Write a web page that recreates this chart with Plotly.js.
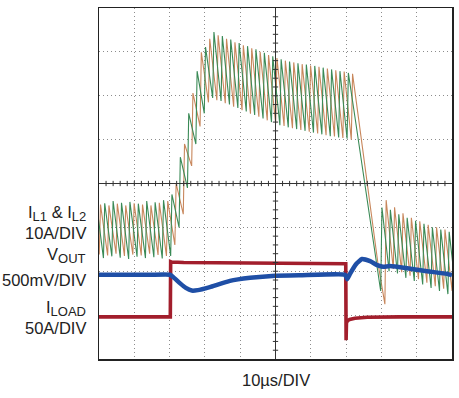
<!DOCTYPE html>
<html>
<head>
<meta charset="utf-8">
<script src="https://cdn.plot.ly/plotly-3.0.1.min.js"></script>
<style>html,body{margin:0;padding:0;background:#fff;}#chart{width:459px;height:398px;}</style>
</head>
<body>
<div id="chart"></div>
<script>
// ---- Data (screen divisions: time 0..10 div, amplitude 0..8 div from bottom) ----
// Switching period of each phase (div) and fraction of period spent ramping up
const PERIOD = 0.238;
const RISE_FRAC = 0.15;
const GREEN_START = -0.112;   // first cycle start of phase 2 (green)
const ORANGE_START = 0.007;   // first cycle start of phase 1 (orange)

// Inductor current IL2 (green): valley and peak of each switching cycle
const GREEN_VALLEY = [2.33,2.30,2.34,2.31,2.28,2.33,2.30,2.32,2.29,2.35,3.00,3.90,4.90,5.60,5.95,5.88,5.80,5.72,5.64,5.56,5.48,5.40,5.33,5.28,5.24,5.20,5.16,5.12,5.08,5.05,5.02,5.43,4.14,2.86,1.55,2.00,1.95,1.85,1.78,1.70,1.62,1.55,1.48,1.45];
const GREEN_PEAK   = [3.57,3.55,3.60,3.56,3.58,3.54,3.60,3.57,3.62,3.75,4.60,5.60,6.56,7.11,7.45,7.36,7.28,7.20,7.13,7.06,6.98,6.90,6.83,6.78,6.74,6.71,6.68,6.64,6.60,6.56,6.52,5.24,3.95,2.67,3.45,3.40,3.30,3.22,3.15,3.08,3.00,2.95,2.90,2.88];

// Inductor current IL1 (orange): valley and peak of each switching cycle
const ORANGE_VALLEY = [2.38,2.36,2.40,2.35,2.38,2.36,2.40,2.37,2.35,2.60,3.30,4.40,5.30,5.85,5.90,5.83,5.75,5.67,5.59,5.52,5.44,5.37,5.31,5.26,5.22,5.18,5.14,5.10,5.07,5.04,5.00,5.29,3.86,2.43,1.25,2.05,1.98,1.90,1.82,1.74,1.66,1.60,1.55,1.52];
const ORANGE_PEAK   = [3.52,3.50,3.54,3.50,3.55,3.52,3.50,3.56,3.60,4.00,4.90,6.06,6.99,7.30,7.38,7.30,7.22,7.15,7.08,7.00,6.93,6.86,6.80,6.76,6.72,6.69,6.66,6.62,6.58,6.55,6.50,5.07,3.64,2.21,3.62,3.46,3.32,3.22,3.14,3.06,3.00,2.95,2.92,2.90];

// Load current ILOAD
const LOAD_T = [0, 2.02, 2.03, 2.06, 2.4, 4.5, 6.99, 7.0, 7.01, 7.04, 7.1, 7.25, 7.6, 8.5, 10];
const LOAD_V = [0.96, 0.96, 2.22, 2.21, 2.20, 2.19, 2.17, 0.43, 0.82, 0.87, 0.90, 0.93, 0.95, 0.96, 0.96];

// Output voltage VOUT
const VOUT_T = [0, 1.44, 2.01, 2.10, 2.29, 2.46, 2.63, 2.80, 3.14, 3.71, 4.28, 4.99, 5.69, 6.97, 7.03, 7.11, 7.28, 7.45, 7.68, 7.88, 8.05, 8.24, 8.73, 9.29, 9.86, 10];
const VOUT_V = [1.92, 1.92, 1.92, 1.87, 1.73, 1.62, 1.56, 1.57, 1.64, 1.78, 1.85, 1.90, 1.91, 1.92, 1.82, 1.94, 2.16, 2.28, 2.23, 2.14, 2.10, 2.12, 2.07, 2.00, 1.94, 1.91];

// ---- Build traces ----
function sawtooth(start, valleys, peaks) {
  const x = [], y = [];
  for (let k = 0; k < valleys.length; k++) {
    const t0 = start + k * PERIOD;
    x.push(t0); y.push(valleys[k]);
    x.push(t0 + RISE_FRAC * PERIOD); y.push(peaks[k]);
  }
  return {x, y};
}
const g = sawtooth(GREEN_START, GREEN_VALLEY, GREEN_PEAK);
const o = sawtooth(ORANGE_START, ORANGE_VALLEY, ORANGE_PEAK);

const traces = [
  {x: o.x, y: o.y, type: 'scatter', mode: 'lines', line: {color: '#c8875c', width: 1.1}, hoverinfo: 'skip'},
  {x: g.x, y: g.y, type: 'scatter', mode: 'lines', line: {color: '#3a8a56', width: 1.1}, hoverinfo: 'skip'},
  {x: LOAD_T, y: LOAD_V, type: 'scatter', mode: 'lines', line: {color: '#a21e2c', width: 3.6}, hoverinfo: 'skip'},
  {x: VOUT_T, y: VOUT_V, type: 'scatter', mode: 'lines', line: {color: '#1f4fa6', width: 4.5, shape: 'spline', smoothing: 0.4}, hoverinfo: 'skip'}
];

// center graticule with minor ticks
const shapes = [
  {type: 'line', xref: 'x', yref: 'y', x0: 0, x1: 10, y0: 4, y1: 4, line: {color: '#333', width: 1}},
  {type: 'line', xref: 'x', yref: 'y', x0: 5, x1: 5, y0: 0, y1: 8, line: {color: '#333', width: 1}}
];
for (let i = 1; i < 50; i++) {
  const xv = i * 0.2;
  shapes.push({type: 'line', xref: 'x', yref: 'y', x0: xv, x1: xv, y0: 3.94, y1: 4.06, line: {color: '#333', width: 1}});
}
for (let i = 1; i < 40; i++) {
  const yv = i * 0.2;
  shapes.push({type: 'line', xref: 'x', yref: 'y', x0: 4.925, x1: 5.075, y0: yv, y1: yv, line: {color: '#333', width: 1}});
}

const F = {family: 'Liberation Sans, Arial, sans-serif', size: 16.5, color: '#222'};
function py(px) { return (359 - px) / 351; }
const LX = (88 - 99) / 353;
function sub(s) { return '<sub><span style="font-size:13px">' + s + '</span></sub>'; }
const annotations = [
  {text: 'I' + sub('L1') + ' & I' + sub('L2'), y: py(213)},
  {text: '10A/DIV', y: py(233)},
  {text: 'V' + sub('OUT'), y: py(255)},
  {text: '500mV/DIV', y: py(280)},
  {text: 'I' + sub('LOAD'), y: py(308)},
  {text: '50A/DIV', y: py(328)}
].map(a => Object.assign({xref: 'paper', yref: 'paper', x: LX, xanchor: 'right', yanchor: 'middle', showarrow: false, font: F}, a));
annotations.push({text: '10µs/DIV', xref: 'paper', yref: 'paper', x: 0.5, y: py(380), xanchor: 'center', yanchor: 'middle', showarrow: false, font: F});

const layout = {
  width: 459, height: 398,
  margin: {l: 99, r: 7, t: 8, b: 39, pad: 0},
  paper_bgcolor: '#fff', plot_bgcolor: '#fff',
  showlegend: false,
  xaxis: {range: [0, 10], dtick: 1, tick0: 0, showticklabels: false, ticks: '', zeroline: false,
          showgrid: true, gridcolor: '#8c8c8c', griddash: '1px,3px', gridwidth: 1,
          showline: true, mirror: true, linecolor: '#222', linewidth: 1.5, fixedrange: true},
  yaxis: {range: [0, 8], dtick: 1, tick0: 0, showticklabels: false, ticks: '', zeroline: false,
          showgrid: true, gridcolor: '#8c8c8c', griddash: '1px,3px', gridwidth: 1,
          showline: true, mirror: true, linecolor: '#222', linewidth: 1.5, fixedrange: true},
  shapes: shapes,
  annotations: annotations
};

Plotly.newPlot('chart', traces, layout, {displayModeBar: false, staticPlot: true});
</script>
</body>
</html>
